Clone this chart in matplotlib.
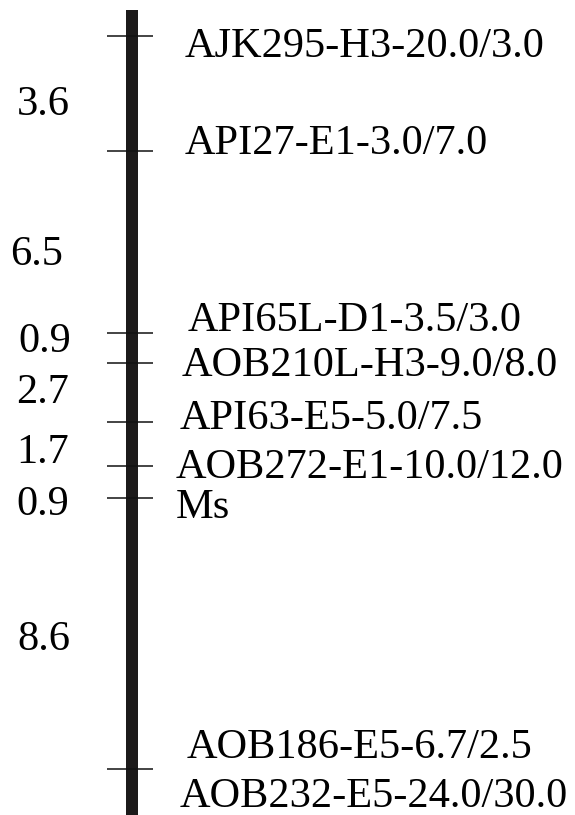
import matplotlib as mpl
import matplotlib.pyplot as plt
from matplotlib.patches import Rectangle

# marker names and their drawn map positions (cM, as laid out in the figure)
marker_names = [
    "AJK295-H3-20.0/3.0",
    "API27-E1-3.0/7.0",
    "API65L-D1-3.5/3.0",
    "AOB210L-H3-9.0/8.0",
    "API63-E5-5.0/7.5",
    "AOB272-E1-10.0/12.0",
    "Ms",
    "AOB186-E5-6.7/2.5",
    "AOB232-E5-24.0/30.0",
]
marker_pos = [0.0, 3.9, 10.1, 11.1, 13.1, 14.6, 15.7, 24.9, 24.9]

# interval distances between neighbouring loci
interval_labels = ["3.6", "6.5", "0.9", "2.7", "1.7", "0.9", "8.6"]


def main():
    mpl.use("Agg")
    plt.rcParams["font.family"] = ["Liberation Serif", "DejaVu Serif"]

    px_per_cm = 29.44
    top_px = 36.0

    def px(y):
        # figure pixel row -> map units
        return (y - top_px) / px_per_cm

    fig = plt.figure(figsize=(5.75, 8.15), dpi=100)
    ax = fig.add_axes([0, 0, 1, 1])
    ax.set_xlim(0, 575)
    ax.set_ylim(px(815), px(0))
    ax.axis("off")

    # chromosome bar
    ax.add_patch(Rectangle((126, px(10)), 12, px(815) - px(10),
                           facecolor="#1c1a1a", edgecolor="none"))

    # marker ticks (unique positions)
    for pos in sorted(set(marker_pos)):
        ax.plot([107, 153], [pos, pos], color="#111111", lw=1.1,
                solid_capstyle="butt")

    # label placement (text was nudged by hand in the original)
    label_y = [42, 139, 316, 361, 414, 463, 503, 743, 792]
    label_x = [185, 185, 188, 182, 180, 176, 176, 187, 180]
    for name, x, y in zip(marker_names, label_x, label_y):
        ax.text(x, px(y), name, fontsize=30.5, ha="left",
                va="center_baseline", color="black")

    interval_y = [100, 250, 337, 388, 448, 500, 635]
    interval_x = [70, 63, 71, 69, 69, 69, 70]
    for lab, x, y in zip(interval_labels, interval_x, interval_y):
        ax.text(x, px(y), lab, fontsize=30.5, ha="right",
                va="center_baseline", color="black")

    fig.savefig("out.png", dpi=100, facecolor="white")
    plt.close(fig)


if __name__ == "__main__":
    main()
